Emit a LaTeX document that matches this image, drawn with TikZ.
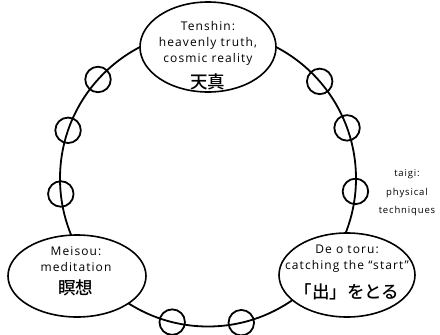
\documentclass[tikz,border=0pt]{standalone}
\usepackage{fontspec}
\setmainfont{Open Sans}[LetterSpace=9]
\newfontfamily\cjk{Noto Sans CJK JP Medium}
\usetikzlibrary{shapes.geometric}
\newcommand{\jpline}[1]{{\cjk\fontsize{17.5}{16}\selectfont #1}}
\begin{document}
\begin{tikzpicture}[x=1pt,y=-1pt,
  ring/.style={circle,draw,line width=1.8pt,inner sep=0pt,outer sep=0pt,minimum size=296pt},
  knot/.style={circle,draw,line width=1.8pt,inner sep=0pt,minimum size=25.5pt},
  oval/.style={ellipse,draw,line width=1.6pt,fill=white,inner sep=0pt},
  txt/.style={align=center,inner sep=0pt,anchor=north,font=\fontsize{12}{16}\selectfont}]
\useasboundingbox (0,0) rectangle (440,335);
\node[ring] (ring) at (208,178.5) {};
\foreach \a/\n in {186/k1,161/k2,138/k3,41/k4,20/k5,-5/k6,256/k7,283/k8}
  \node[knot] (\n) at (ring.\a) {};
\node[oval,minimum width=136pt,minimum height=90pt] (top) at (208,47) {};
\node[oval,minimum width=138pt,minimum height=82pt] (left) at (77,276) {};
\node[oval,minimum width=136pt,minimum height=84pt] (right) at (347,275) {};
\node[txt] (toptext) at (208,21) {Tenshin:\\heavenly truth,\\cosmic reality\\[7.5pt]\jpline{天真}};
\node[txt] (lefttext) at (76,246) {Meisou:\\meditation\\[7.5pt]\jpline{瞑想}};
\node[txt] (righttext) at (347,245) {De o toru:\\catching the “start”\\[10pt]\jpline{「出」をとる}};
\node[align=center,inner sep=0pt,font=\fontsize{9.5}{18.5}\selectfont] (taigi) at (407,193) {taigi:\\physical\\techniques};
\end{tikzpicture}
\end{document}
